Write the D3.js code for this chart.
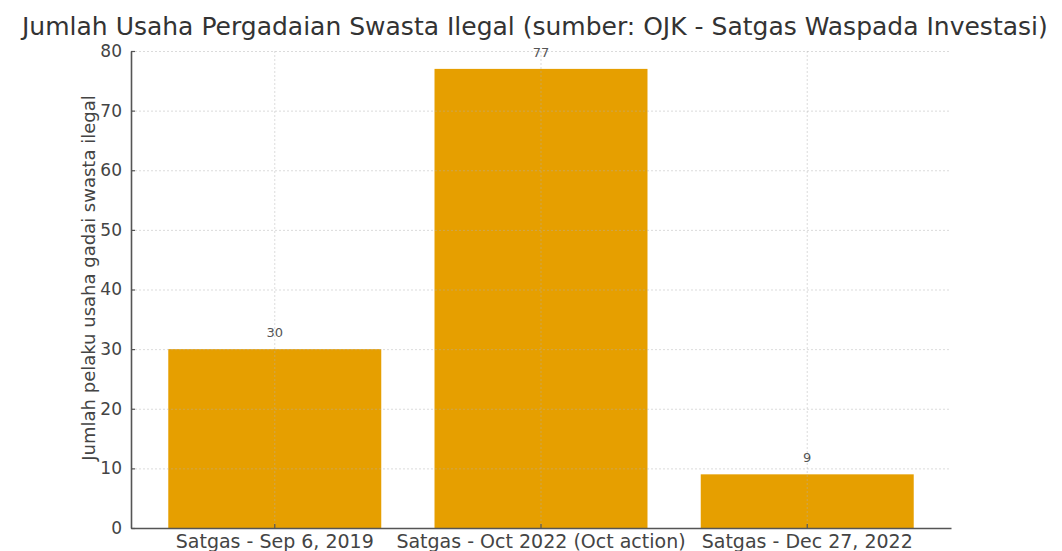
<!DOCTYPE html>
<html><head><meta charset="utf-8">
<script src="https://cdn.jsdelivr.net/npm/d3@7"></script>
<style>body{margin:0;background:#fff}svg{display:block}</style>
</head><body>
<script>
const categories = ["Satgas - Sep 6, 2019", "Satgas - Oct 2022 (Oct action)", "Satgas - Dec 27, 2022"];
const values = [30, 77, 9];
const yTicks = [0, 10, 20, 30, 40, 50, 60, 70, 80];
const title = "Jumlah Usaha Pergadaian Swasta Ilegal (sumber: OJK - Satgas Waspada Investasi)";
const yLabel = "Jumlah pelaku usaha gadai swasta ilegal";

const W = 1062, H = 551;
const m = {left: 131, right: 1062 - 951, top: 51, bottom: 551 - 528};
const font = "DejaVu Sans, sans-serif";

const svg = d3.select("body").append("svg").attr("width", W).attr("height", H);

const x = d3.scaleBand().domain(categories).range([m.left, W - m.right]).paddingInner(0.2).paddingOuter(0.14);
const y = d3.scaleLinear().domain([0, 80]).range([H - m.bottom, m.top]);

// bars
svg.append("g").selectAll("rect").data(values).join("rect")
  .attr("x", (d, i) => x(categories[i]))
  .attr("y", d => y(d))
  .attr("width", x.bandwidth())
  .attr("height", d => y(0) - y(d))
  .attr("fill", "#E69F00");

// grid
const grid = svg.append("g").attr("stroke", "#b0b0b0").attr("stroke-opacity", 0.45).attr("stroke-dasharray", "2,2").attr("stroke-width", 1);
grid.selectAll("line.h").data(yTicks.slice(1)).join("line").attr("class", "h")
  .attr("x1", m.left).attr("x2", W - m.right).attr("y1", d => y(d) + 0.5).attr("y2", d => y(d) + 0.5);
grid.selectAll("line.v").data(categories).join("line").attr("class", "v")
  .attr("x1", d => x(d) + x.bandwidth() / 2).attr("x2", d => x(d) + x.bandwidth() / 2)
  .attr("y1", m.top).attr("y2", H - m.bottom);

// axes
const yAxis = d3.axisLeft(y).tickValues(yTicks).tickSizeInner(-4).tickSizeOuter(0).tickPadding(9);
const gy = svg.append("g").attr("transform", `translate(${m.left},0)`).call(yAxis);
const xAxis = d3.axisBottom(x).tickSizeInner(-4).tickSizeOuter(0).tickPadding(7);
const gx = svg.append("g").attr("transform", `translate(0,${H - m.bottom})`).call(xAxis);
[gy, gx].forEach(g => {
  g.select(".domain").attr("stroke", "#555").attr("stroke-width", 1.6);
  g.selectAll(".tick line").attr("stroke", "#555").attr("stroke-width", 1.2);
  g.selectAll(".tick text").attr("fill", "#444").style("font-family", font).style("font-size", "17px");
});
gx.selectAll(".tick text").style("font-size", "19px");

// value labels
svg.append("g").selectAll("text").data(values).join("text")
  .attr("x", (d, i) => x(categories[i]) + x.bandwidth() / 2)
  .attr("y", d => y(d) - 12)
  .attr("text-anchor", "middle")
  .attr("fill", "#555").style("font-family", font).style("font-size", "13px")
  .text(d => d);

// title
svg.append("text").attr("x", 22).attr("y", 35)
  .attr("fill", "#333").style("font-family", font).style("font-size", "25px")
  .text(title);

// y label
svg.append("text").attr("transform", `translate(95,278) rotate(-90)`)
  .attr("text-anchor", "middle").attr("fill", "#444")
  .style("font-family", font).style("font-size", "18px")
  .text(yLabel);
</script>
</body></html>
